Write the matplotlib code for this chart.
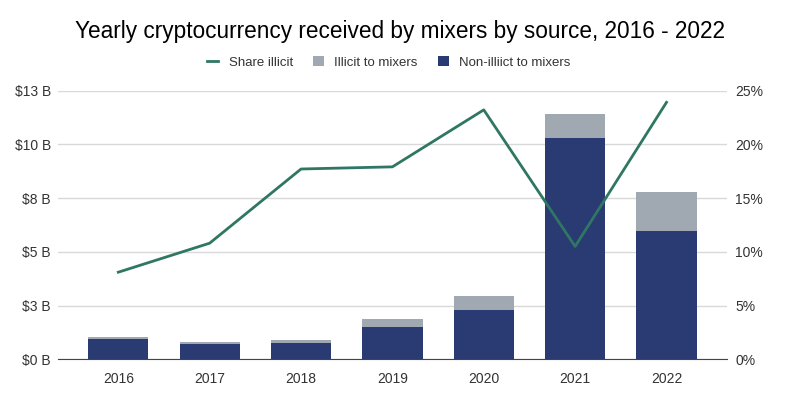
import numpy as np
import matplotlib.pyplot as plt

plt.rcParams['font.family'] = ['Liberation Sans', 'DejaVu Sans']

years = ["2016", "2017", "2018", "2019", "2020", "2021", "2022"]
non_illicit = [0.94, 0.70, 0.74, 1.50, 2.28, 10.28, 5.95]   # $ billions
illicit = [0.08, 0.09, 0.16, 0.36, 0.68, 1.15, 1.84]        # $ billions
share_illicit = [8.1, 10.8, 17.7, 17.9, 23.2, 10.5, 23.9]   # percent

left_ticks = [0, 2.5, 5, 7.5, 10, 12.5]
left_labels = ["$0 B", "$3 B", "$5 B", "$8 B", "$10 B", "$13 B"]
right_ticks = [0, 5, 10, 15, 20, 25]

navy = "#2a3a72"
grey = "#a0a8b2"
green = "#2f7763"
txt = "#333333"

fig = plt.figure(figsize=(8, 3.97), dpi=100)
ax = fig.add_axes([0.0725, 0.095, 0.836, 0.677])
x = np.arange(len(years))

ax.bar(x, non_illicit, width=0.66, color=navy, label="Non-illiict to mixers", zorder=2)
ax.bar(x, illicit, width=0.66, bottom=non_illicit, color=grey, label="Illicit to mixers", zorder=2)

ax.set_ylim(0, 12.5)
ax.set_xlim(-0.66, len(years) - 1 + 0.66)
ax.set_yticks(left_ticks)
ax.set_yticklabels(left_labels)
ax.set_xticks(x)
ax.set_xticklabels(years)
ax.grid(axis="y", color="#d9d9d9", linewidth=1, zorder=0)
for s in ["top", "left", "right"]:
    ax.spines[s].set_visible(False)
ax.spines["bottom"].set_color("#444444")
ax.tick_params(axis="both", length=0, colors=txt, labelsize=10)
ax.tick_params(axis="x", pad=9)
ax.tick_params(axis="y", pad=5)

ax2 = ax.twinx()
ax2.plot(x, share_illicit, color=green, linewidth=2, label="Share illicit", zorder=3)
ax2.set_ylim(0, 25)
ax2.set_yticks(right_ticks)
ax2.set_yticklabels([f"{t}%" for t in right_ticks])
for s in ["top", "left", "right", "bottom"]:
    ax2.spines[s].set_visible(False)
ax2.tick_params(axis="y", length=0, colors=txt, labelsize=10, pad=6)

handles = [ax2.get_lines()[0]] + ax.get_legend_handles_labels()[0][::-1]
labels = ["Share illicit", "Illicit to mixers", "Non-illiict to mixers"]
fig.legend(handles, labels, loc="center", bbox_to_anchor=(0.486, 0.843), ncol=3,
           frameon=False, fontsize=9.5, handlelength=0.85, handleheight=0.85,
           columnspacing=1.5, handletextpad=0.8, labelcolor=txt)

fig.suptitle("Yearly cryptocurrency received by mixers by source, 2016 - 2022",
             x=0.5, y=0.95, fontsize=16.3, color="black")

fig.savefig("out.png", dpi=100)
